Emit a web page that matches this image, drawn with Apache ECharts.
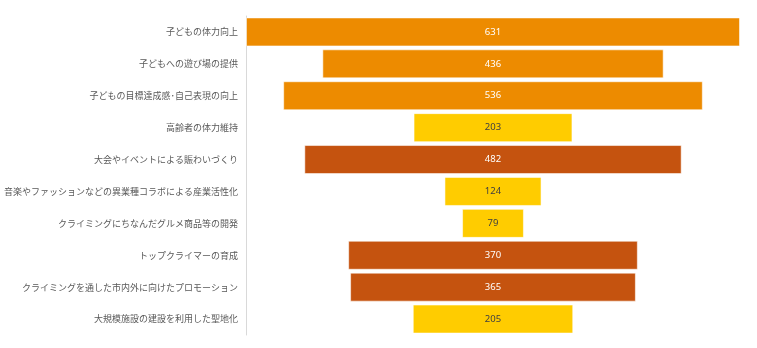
<!DOCTYPE html>
<html><head><meta charset="utf-8">
<script src="https://cdn.jsdelivr.net/npm/echarts@6/dist/echarts.min.js"></script>
<style>html,body{margin:0;padding:0;background:#fff}#c{width:757px;height:348px}</style>
</head><body><div id="c"></div>
<script>
const categories = ['子どもの体力向上','子どもへの遊び場の提供','子どもの目標達成感･自己表現の向上','高齢者の体力維持','大会やイベントによる賑わいづくり','音楽やファッションなどの異業種コラボによる産業活性化','クライミングにちなんだグルメ商品等の開発','トップクライマーの育成','クライミングを通した市内外に向けたプロモーション','大規模施設の建設を利用した聖地化'];
const values = [631,436,536,203,482,124,79,370,365,205];
const groups = ['A','A','A','B','C','B','B','C','C','B'];
const groupColors = {A:'#ED8B00', B:'#FFCC00', C:'#C5530F'};
const labelColors = {A:'#ffffff', B:'#404040', C:'#ffffff'};
const maxV = Math.max(...values);
const chart = echarts.init(document.getElementById('c'));
chart.setOption({
  animation:false,
  grid:{left:246, width:494, top:16, height:319, containLabel:false, outerBoundsMode:'none'},
  xAxis:{type:'value', min:0, max:maxV, show:false},
  yAxis:{type:'category', data:categories, inverse:true,
    axisLine:{show:true, lineStyle:{color:'#d9d9d9', width:1}},
    axisTick:{show:false},
    axisLabel:{color:'#595959', fontSize:9, margin:8, fontFamily:'Noto Sans CJK JP'}},
  series:[
    {type:'bar', stack:'s', silent:true, barCategoryGap:'9%',
     itemStyle:{color:'transparent'},
     data:values.map(v=>(maxV-v)/2)},
    {type:'bar', stack:'s', barCategoryGap:'9%',
     data:values.map((v,i)=>({value:v,
       itemStyle:{color:groupColors[groups[i]], borderColor:'rgba(255,255,255,0.55)', borderWidth:1},
       label:{color:labelColors[groups[i]]}})),
     label:{show:true, position:'inside', fontSize:9.5, fontFamily:'Noto Sans'}}
  ]
});
</script></body></html>
